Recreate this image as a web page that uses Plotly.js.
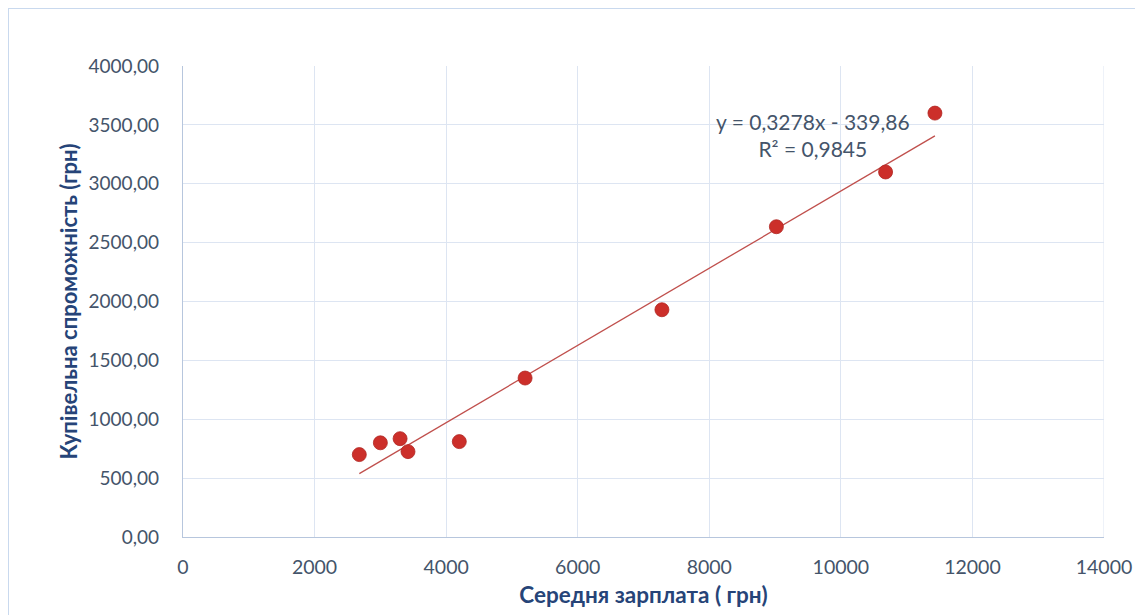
<!DOCTYPE html>
<html><head><meta charset="utf-8">
<script src="https://cdn.plot.ly/plotly-3.0.1.min.js"></script>
<style>
html,body{margin:0;padding:0;background:#fff;}
#frame{position:absolute;left:8px;top:8px;width:1140px;height:620px;border:1.5px solid #c9d9ee;box-sizing:border-box;}
#chart{position:absolute;left:0;top:0;width:1135px;height:615px;}
</style></head>
<body>
<div id="frame"></div>
<div id="chart"></div>
<script>
const salary = [2680, 3000, 3300, 3420, 4200, 5200, 7280, 9020, 10680, 11430];
const purchasing = [700, 800, 835, 725, 810, 1350, 1930, 2635, 3100, 3600];
const slope = 0.3278, intercept = -339.86;
const trendX = [Math.min(...salary), Math.max(...salary)];
const trendY = trendX.map(v => slope * v + intercept);
const yTicks = [0, 500, 1000, 1500, 2000, 2500, 3000, 3500, 4000];
const xTicks = [0, 2000, 4000, 6000, 8000, 10000, 12000, 14000];
const tickCol = '#44546a';
const titleCol = '#264478';
const data = [
  {x: trendX, y: trendY, mode: 'lines', line: {color: '#c0504d', width: 1.3}, hoverinfo: 'skip'},
  {x: salary, y: purchasing, mode: 'markers', marker: {color: '#cc2f2a', size: 14, line: {color: '#b02622', width: 0.8}}}
];
const layout = {
  width: 1135, height: 615,
  margin: {l: 183, r: 31, t: 66, b: 78},
  paper_bgcolor: 'rgba(0,0,0,0)', plot_bgcolor: '#fff',
  showlegend: false,
  separators: ', ',
  font: {family: 'Lato, "Open Sans", sans-serif', color: tickCol, size: 19},
  xaxis: {range: [0, 14000], tickvals: xTicks, tickformat: 'd', showgrid: true, gridcolor: '#dde5f2', gridwidth: 1,
          zeroline: false, showline: true, linecolor: '#b7c6dd', linewidth: 1.2, ticks: '', ticklabelstandoff: 12,
          tickfont: {size: 19.5, color: tickCol},
          title: {text: 'Середня зарплата ( грн)', font: {size: 22.5, color: titleCol, weight: 'bold'}, standoff: 10}},
  yaxis: {range: [0, 4000], tickvals: yTicks, tickformat: '.2f', showgrid: true, gridcolor: '#dde5f2', gridwidth: 1,
          zeroline: false, showline: true, linecolor: '#b7c6dd', linewidth: 1.2, ticks: '', ticklabelstandoff: 19,
          tickfont: {size: 19, color: tickCol},
          title: {text: 'Купівельна спроможність (грн)', font: {size: 22, color: titleCol, weight: 'bold'}, standoff: 4}},
  shapes: [
    {type: 'line', xref: 'x', yref: 'paper', x0: 14000, x1: 14000, y0: 0, y1: 1, line: {color: '#dde5f2', width: 1}}
  ],
  annotations: [
    {x: 9582, y: 3410, xref: 'x', yref: 'y', showarrow: false, align: 'center',
     text: 'y = 0,3278x - 339,86<br>R² = 0,9845', font: {size: 21, color: tickCol}}
  ]
};
Plotly.newPlot('chart', data, layout, {displayModeBar: false, staticPlot: true});
</script>
</body></html>
